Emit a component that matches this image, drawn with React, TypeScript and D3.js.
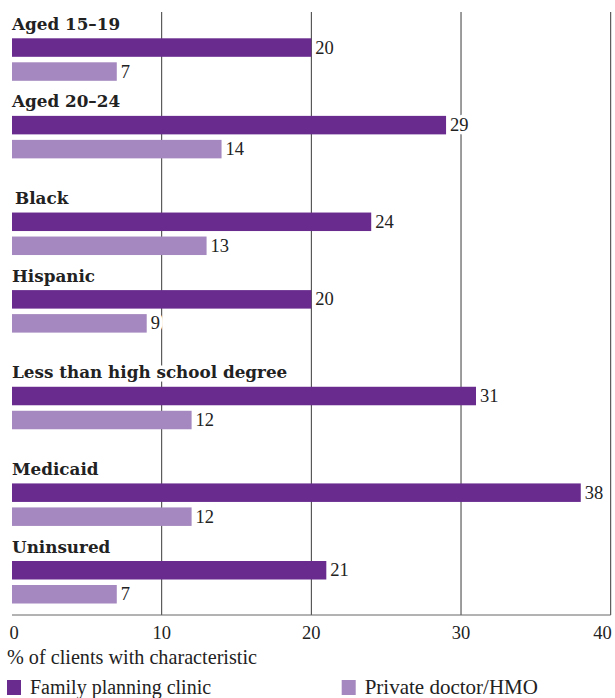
import React from "react";
import * as d3 from "d3";

const categories = [
  "Aged 15–19",
  "Aged 20–24",
  "Black",
  "Hispanic",
  "Less than high school degree",
  "Medicaid",
  "Uninsured",
];
const sectionOf = [0, 0, 1, 1, 2, 3, 3];
const familyPlanning = [20, 29, 24, 20, 31, 38, 21];
const privateDoctor = [7, 14, 13, 9, 12, 12, 7];
const xTicks = [0, 10, 20, 30, 40];
const seriesNames = ["Family planning clinic", "Private doctor/HMO"];
const seriesColors = ["#692b8e", "#a488bf"];
const axisTitle = "% of clients with characteristic";

const W = 615;
const H = 698;
const SECTION_GAP = 0.246;

export default function App() {
  const x = d3.scaleLinear().domain([0, 40]).range([12, 610.7]);
  const posOf = (i: number) => i + SECTION_GAP * sectionOf[i];
  const lastPos = posOf(categories.length - 1);
  const y = d3.scaleLinear().domain([0, lastPos]).range([38.3, 561]);
  const barH = 18.5;
  const offset2 = 24;
  const gridTop = 12;
  const gridBottom = 615;

  const labelFont = "'DejaVu Serif', serif";
  const bodyFont = "'Liberation Serif', 'Times New Roman', serif";

  const halo = {
    stroke: "#fff",
    strokeWidth: 7,
    strokeLinejoin: "round" as const,
    paintOrder: "stroke" as const,
  };

  return (
    <svg
      width={W}
      height={H}
      style={{ position: "absolute", left: 0, top: 0, background: "#fff" }}
    >
      <rect x={0} y={0} width={W} height={H} fill="#fff" />
      {xTicks.slice(1).map((t) => (
        <line
          key={"g" + t}
          x1={x(t)}
          x2={x(t)}
          y1={gridTop}
          y2={gridBottom}
          stroke="#3a3a3a"
          strokeWidth={1}
        />
      ))}
      <line x1={x(0)} x2={x(40)} y1={gridBottom} y2={gridBottom} stroke="#666" strokeWidth={1} />

      {categories.map((c, i) => {
        const top = y(posOf(i));
        return (
          <g key={c}>
            <rect x={x(0)} y={top} width={x(familyPlanning[i]) - x(0)} height={barH} fill={seriesColors[0]} />
            <rect x={x(0)} y={top + offset2} width={x(privateDoctor[i]) - x(0)} height={barH} fill={seriesColors[1]} />
          </g>
        );
      })}

      {categories.map((c, i) => {
        const top = y(posOf(i));
        return (
          <g key={"l" + c}>
            <text
              x={x(0) + (c === "Black" ? 3 : 0)}
              y={top - 8.5}
              fontFamily={labelFont}
              fontWeight="bold"
              fontSize={16.8}
              fill="#222"
              style={halo}
            >
              {c}
            </text>
            <text
              x={x(familyPlanning[i]) + 4}
              y={top + barH / 2 + 6}
              fontFamily={bodyFont}
              fontSize={18.5}
              fill="#222"
              style={halo}
            >
              {familyPlanning[i]}
            </text>
            <text
              x={x(privateDoctor[i]) + 4}
              y={top + offset2 + barH / 2 + 6}
              fontFamily={bodyFont}
              fontSize={18.5}
              fill="#222"
              style={halo}
            >
              {privateDoctor[i]}
            </text>
          </g>
        );
      })}

      {xTicks.map((t, k) => (
        <text
          key={"t" + t}
          x={k === xTicks.length - 1 ? x(t) + 1 : x(t) + (k === 0 ? 2 : 0)}
          y={638.5}
          textAnchor={k === xTicks.length - 1 ? "end" : "middle"}
          fontFamily={bodyFont}
          fontSize={18.5}
          fill="#222"
        >
          {t}
        </text>
      ))}

      <text x={7} y={663.5} fontFamily={bodyFont} fontSize={20.2} fill="#222">
        {axisTitle}
      </text>

      {seriesNames.map((s, k) => {
        const lx = k === 0 ? 7 : 341.7;
        return (
          <g key={s}>
            <rect x={lx} y={680} width={14} height={15} fill={seriesColors[k]} />
            <text
              x={lx + 23}
              y={694}
              fontFamily={bodyFont}
              fontSize={k === 0 ? 20 : 21}
              fill="#222"
            >
              {s}
            </text>
          </g>
        );
      })}
    </svg>
  );
}
